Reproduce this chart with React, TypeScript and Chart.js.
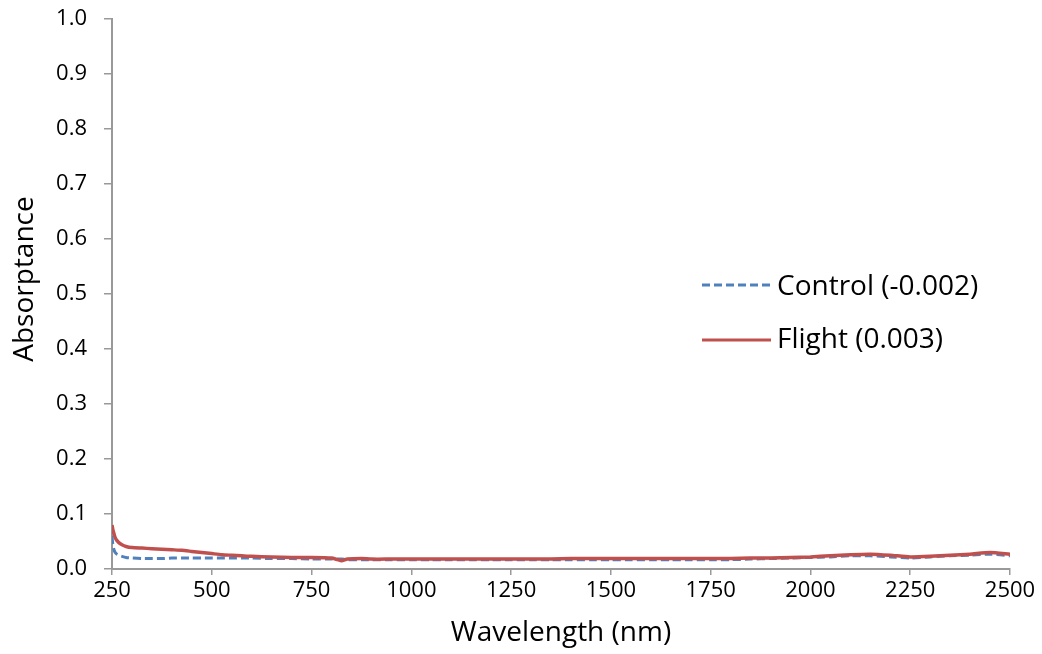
import React, { useEffect, useRef } from "react";
import { Chart, registerables } from "chart.js";

Chart.register(...registerables);

const wavelengths = [
  250, 252, 255, 258, 262, 267, 275, 285, 300, 325, 350, 375, 400, 425, 450, 475,
  500, 525, 550, 575, 600, 650, 700, 750, 800, 815, 825, 840, 875, 900, 950, 1000,
  1050, 1100, 1150, 1200, 1250, 1300, 1350, 1400, 1450, 1500, 1550, 1600, 1650,
  1700, 1750, 1800, 1850, 1900, 1950, 2000, 2050, 2100, 2150, 2200, 2250, 2300,
  2350, 2400, 2450, 2500,
];

const controlValues = [
  0.06, 0.045, 0.035, 0.03, 0.027, 0.025, 0.023, 0.021, 0.02, 0.019, 0.019, 0.019,
  0.02, 0.02, 0.02, 0.02, 0.02, 0.02, 0.02, 0.02, 0.02, 0.019, 0.019, 0.018, 0.018,
  0.018, 0.018, 0.017, 0.017, 0.017, 0.017, 0.017, 0.017, 0.017, 0.017, 0.017,
  0.017, 0.017, 0.017, 0.017, 0.017, 0.017, 0.017, 0.017, 0.017, 0.017, 0.017,
  0.017, 0.018, 0.019, 0.02, 0.021, 0.022, 0.024, 0.024, 0.022, 0.02, 0.022, 0.024,
  0.025, 0.027, 0.024,
];

const flightValues = [
  0.08, 0.072, 0.064, 0.057, 0.052, 0.048, 0.044, 0.041, 0.039, 0.038, 0.037, 0.036,
  0.035, 0.034, 0.032, 0.03, 0.028, 0.026, 0.025, 0.024, 0.023, 0.022, 0.021, 0.021,
  0.02, 0.017, 0.015, 0.018, 0.019, 0.018, 0.018, 0.018, 0.018, 0.018, 0.018, 0.018,
  0.018, 0.018, 0.018, 0.019, 0.019, 0.019, 0.019, 0.019, 0.019, 0.019, 0.019, 0.019,
  0.02, 0.02, 0.021, 0.022, 0.024, 0.026, 0.027, 0.025, 0.022, 0.023, 0.025, 0.027,
  0.03, 0.027,
];

const seriesLabels = ["Control (-0.002)", "Flight (0.003)"];
const xTickValues = [250, 500, 750, 1000, 1250, 1500, 1750, 2000, 2250, 2500];
const yTickValues = [0, 0.1, 0.2, 0.3, 0.4, 0.5, 0.6, 0.7, 0.8, 0.9, 1.0];
const xTitle = "Wavelength (nm)";
const yTitle = "Absorptance";

const BLUE = "#4f81bd";
const RED = "#c0504d";
const FONT = "'Open Sans', sans-serif";

const overlayPlugin = {
  id: "overlay",
  afterDraw(chart: any) {
    const ctx = chart.ctx;
    const items = [
      { label: seriesLabels[0], color: BLUE, dash: [8, 4], y: 285, base: 295 },
      { label: seriesLabels[1], color: RED, dash: [], y: 340, base: 348 },
    ];
    ctx.save();
    items.forEach((it) => {
      ctx.beginPath();
      ctx.setLineDash(it.dash);
      ctx.strokeStyle = it.color;
      ctx.lineWidth = 3;
      ctx.moveTo(702, it.y);
      ctx.lineTo(771, it.y);
      ctx.stroke();
      ctx.setLineDash([]);
      ctx.fillStyle = "#000";
      ctx.font = `28px ${FONT}`;
      ctx.textBaseline = "alphabetic";
      ctx.textAlign = "left";
      ctx.fillText(it.label, 777, it.base);
    });
    // y axis title
    ctx.translate(33, 279);
    ctx.rotate(-Math.PI / 2);
    ctx.font = `28px ${FONT}`;
    ctx.textAlign = "center";
    ctx.textBaseline = "alphabetic";
    ctx.fillStyle = "#000";
    ctx.fillText(yTitle, 0, 0);
    ctx.restore();
  },
};

export default function App() {
  const ref = useRef<HTMLCanvasElement>(null);
  useEffect(() => {
    if (!ref.current) return;
    const chart = new Chart(ref.current, {
      type: "line",
      data: {
        datasets: [
          {
            label: seriesLabels[1],
            data: wavelengths.map((x, i) => ({ x, y: flightValues[i] })),
            borderColor: RED,
            borderWidth: 3.5,
            pointRadius: 0,
            tension: 0.2,
          },
          {
            label: seriesLabels[0],
            data: wavelengths.map((x, i) => ({ x, y: controlValues[i] })),
            borderColor: BLUE,
            borderWidth: 3,
            borderDash: [8, 4],
            pointRadius: 0,
            tension: 0.2,
          },
        ],
      },
      options: {
        animation: false,
        responsive: false,
        maintainAspectRatio: false,
        layout: { padding: { left: 0, top: 19, right: 32, bottom: 0 } },
        plugins: { legend: { display: false }, tooltip: { enabled: false } },
        scales: {
          x: {
            type: "linear",
            min: 250,
            max: 2500,
            afterBuildTicks: (s: any) => {
              s.ticks = xTickValues.map((v) => ({ value: v }));
            },
            afterFit: (s: any) => {
              s.height = 85;
              s.paddingLeft = 0;
              s.paddingRight = 0;
            },
            ticks: {
              color: "#000",
              font: { family: FONT, size: 22 },
              padding: 3,
              maxRotation: 0,
              autoSkip: false,
              callback: (v: any) => String(v),
            },
            grid: { drawOnChartArea: false, drawTicks: true, tickLength: 6, color: "#999", lineWidth: 1.5 },
            border: { color: "#999", width: 2 },
            title: {
              display: true,
              text: xTitle,
              color: "#000",
              font: { family: FONT, size: 28 },
              padding: { top: 0, bottom: 4 },
            },
          },
          y: {
            type: "linear",
            min: 0,
            max: 1,
            afterBuildTicks: (s: any) => {
              s.ticks = yTickValues.map((v) => ({ value: v }));
            },
            afterFit: (s: any) => {
              s.width = 112;
              s.paddingTop = 0;
              s.paddingBottom = 0;
            },
            ticks: {
              color: "#000",
              font: { family: FONT, size: 22 },
              padding: 17,
              callback: (v: any) => Number(v).toFixed(1),
            },
            grid: { drawOnChartArea: false, drawTicks: true, tickLength: 8, color: "#999", lineWidth: 1.5 },
            border: { color: "#999", width: 2 },
          },
        },
      },
      plugins: [overlayPlugin],
    });
    return () => chart.destroy();
  }, []);
  return (
    <div style={{ position: "absolute", left: 0, top: 0, width: 1042, height: 654, background: "#fff" }}>
      <canvas ref={ref} width={1042} height={654} style={{ width: 1042, height: 654 }} />
    </div>
  );
}
